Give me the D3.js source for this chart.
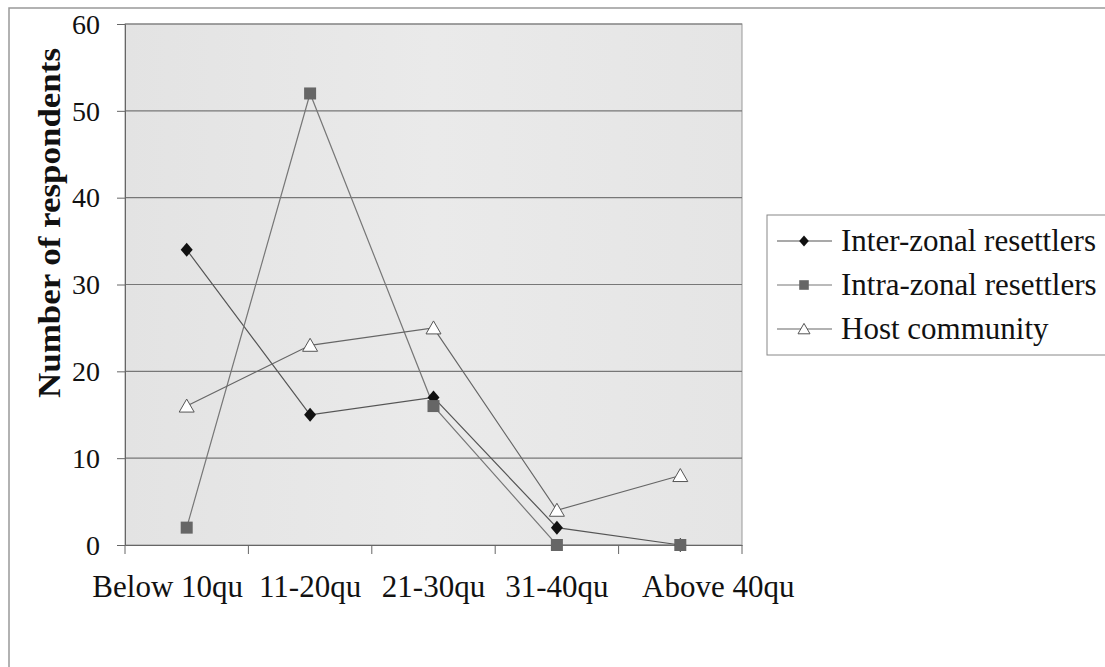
<!DOCTYPE html>
<html>
<head>
<meta charset="utf-8">
<script src="https://cdn.jsdelivr.net/npm/d3@7"></script>
<style>
  body { margin: 0; background: #fff; }
  text { font-family: "Liberation Serif", "Times New Roman", serif; fill: #111; }
</style>
</head>
<body>
<div id="chart"></div>
<script>
// data
var categories = ["Below 10qu", "11-20qu", "21-30qu", "31-40qu", "Above 40qu"];
var interZonal = [34, 15, 17, 2, 0];
var intraZonal = [2, 52, 16, 0, 0];
var hostCommunity = [16, 23, 25, 4, 8];
var seriesNames = ["Inter-zonal resettlers", "Intra-zonal resettlers", "Host community"];
var yTicks = [0, 10, 20, 30, 40, 50, 60];

var width = 1105, height = 667;
var margin = {left: 125, top: 24, right: 363, bottom: 122};

var svg = d3.select("#chart").append("svg")
    .attr("width", width)
    .attr("height", height);

// outer frame
svg.append("path")
    .attr("d", "M9,667 V8 H1105")
    .attr("fill", "none")
    .attr("stroke", "#999")
    .attr("stroke-width", 1.5);

var xScale = d3.scaleBand()
    .domain(categories)
    .range([margin.left, width - margin.right]);

var yScale = d3.scaleLinear()
    .domain([0, 60])
    .range([height - margin.bottom, margin.top]);

// plot background
var grad = svg.append("defs").append("linearGradient")
    .attr("id", "bg").attr("x1", 0).attr("x2", 1).attr("y1", 0).attr("y2", 0);
grad.append("stop").attr("offset", "0%").attr("stop-color", "#e3e3e3");
grad.append("stop").attr("offset", "50%").attr("stop-color", "#eaeaea");
grad.append("stop").attr("offset", "100%").attr("stop-color", "#e5e5e5");

svg.append("rect")
    .attr("x", margin.left)
    .attr("y", margin.top)
    .attr("width", width - margin.right - margin.left)
    .attr("height", height - margin.bottom - margin.top)
    .attr("fill", "url(#bg)")
    .attr("stroke", "#999")
    .attr("stroke-width", 1);

// gridlines
svg.append("g")
    .selectAll("line")
    .data(yTicks.filter(d => d > 0))
    .enter()
    .append("line")
    .attr("x1", margin.left)
    .attr("x2", width - margin.right)
    .attr("y1", d => yScale(d))
    .attr("y2", d => yScale(d))
    .attr("stroke", "#777")
    .attr("stroke-width", 1.2);

// axes
var yAxis = d3.axisLeft(yScale).tickValues(yTicks).tickSize(8).tickPadding(17);
var gy = svg.append("g")
    .attr("transform", `translate(${margin.left}, 0)`)
    .call(yAxis);
gy.select(".domain").attr("stroke", "#666");
gy.selectAll(".tick line").attr("stroke", "#666");
gy.selectAll("text").style("font-size", "28px").attr("dy", "0.33em");

var xAxis = d3.axisBottom(xScale).tickSize(0).tickPadding(30);
var gx = svg.append("g")
    .attr("transform", `translate(0, ${height - margin.bottom})`)
    .call(xAxis);
gx.select(".domain").attr("stroke", "#666").attr("stroke-width", 1.2);
// first and last labels are nudged like the original
var labelShift = {"Below 10qu": -19, "Above 40qu": 38};
gx.selectAll(".tick text")
    .style("font-size", "31px")
    .attr("dx", d => labelShift[d] || 0);

// category boundary ticks
var bounds = categories.map(c => xScale(c)).concat([width - margin.right]);
gx.selectAll(".bound")
    .data(bounds)
    .enter()
    .append("line")
    .attr("class", "bound")
    .attr("x1", d => d).attr("x2", d => d)
    .attr("y1", 0).attr("y2", 9)
    .attr("stroke", "#666");

// y label
svg.append("text")
    .attr("transform", "rotate(-90)")
    .attr("x", -223)
    .attr("y", 60)
    .attr("text-anchor", "middle")
    .attr("textLength", 350)
    .attr("lengthAdjust", "spacingAndGlyphs")
    .style("font-size", "31px")
    .style("font-weight", "bold")
    .text("Number of respondents");

// lines and markers
var cx = d => xScale(d) + xScale.bandwidth() / 2;
var line = d3.line()
    .x((d, i) => cx(categories[i]))
    .y(d => yScale(d));

var seriesData = [interZonal, intraZonal, hostCommunity];
var lineColors = ["#555", "#777", "#666"];

seriesData.forEach(function(vals, s) {
    svg.append("path")
        .datum(vals)
        .attr("d", line)
        .attr("fill", "none")
        .attr("stroke", lineColors[s])
        .attr("stroke-width", 1.2);
});

function drawMarker(g, s, x, y, scale) {
    var k = scale || 1;
    if (s === 0) {
        g.append("path")
            .attr("d", `M${x},${y - 7 * k} L${x + 6 * k},${y} L${x},${y + 7 * k} L${x - 6 * k},${y} Z`)
            .attr("fill", "#111");
    } else if (s === 1) {
        g.append("rect")
            .attr("x", x - 6 * k).attr("y", y - 6 * k)
            .attr("width", 12 * k).attr("height", 12 * k)
            .attr("fill", "#666");
    } else {
        g.append("path")
            .attr("d", `M${x},${y - 7 * k} L${x + 7.5 * k},${y + 6 * k} L${x - 7.5 * k},${y + 6 * k} Z`)
            .attr("fill", "#fff")
            .attr("stroke", "#555")
            .attr("stroke-width", 1);
    }
}

var markers = svg.append("g");
[0, 1, 2].forEach(function(s) {
    seriesData[s].forEach(function(v, i) {
        drawMarker(markers, s, cx(categories[i]), yScale(v));
    });
});

// legend
var legend = svg.append("g");
legend.append("rect")
    .attr("x", 767).attr("y", 215)
    .attr("width", 345).attr("height", 140)
    .attr("fill", "#fff")
    .attr("stroke", "#888")
    .attr("stroke-width", 1);

seriesNames.forEach(function(name, s) {
    var ly = 241 + s * 44;
    legend.append("line")
        .attr("x1", 777).attr("x2", 832)
        .attr("y1", ly).attr("y2", ly)
        .attr("stroke", lineColors[s])
        .attr("stroke-width", 1.2);
    drawMarker(legend, s, 804, ly, 0.8);
    legend.append("text")
        .attr("x", 841).attr("y", ly)
        .attr("dy", "0.33em")
        .style("font-size", "31px")
        .text(name);
});
</script>
</body>
</html>
